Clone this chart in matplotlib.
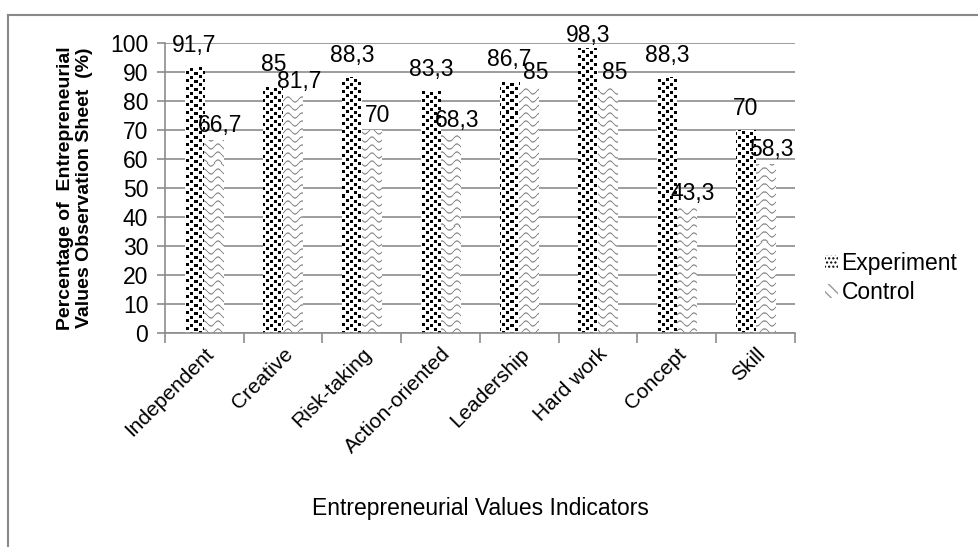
"""
Entrepreneurial values: experiment vs control bar chart.
"""

import numpy as np
import matplotlib
matplotlib.use("Agg")
import matplotlib.pyplot as plt
import matplotlib.transforms as mtransforms
from matplotlib.patches import Patch
from matplotlib.lines import Line2D

plt.rcParams['font.family'] = ['Liberation Sans', 'DejaVu Sans']

# data
categories = ['Independent', 'Creative', 'Risk-taking', 'Action-oriented',
              'Leadership', 'Hard work', 'Concept', 'Skill']
experiment = [91.7, 85, 88.3, 83.3, 86.7, 98.3, 88.3, 70]
control = [66.7, 81.7, 70, 68.3, 85, 85, 43.3, 58.3]
series_names = ['Experiment', 'Control']
y_ticks = list(range(0, 101, 10))

FS = 16.5


def dot_texture(h, w):
    """Black 'confetti' squares on white."""
    img = np.ones((h, w, 4))
    tile = np.zeros((16, 16), dtype=bool)
    spots = [(0, 1), (1, 9), (4, 5), (5, 13), (8, 1), (9, 9), (12, 5), (13, 13)]
    for r, c in spots:
        for dr in range(3):
            for dc in range(3):
                tile[(r + dr) % 16, (c + dc) % 16] = True
    reps = np.tile(tile, (h // 16 + 1, w // 16 + 1))[:h, :w]
    img[reps, :3] = 0.0
    return img


def wave_texture(h, w, period=14.0, spacing=8.0, amp=2.5):
    """Gray sine-wave lines on white."""
    yy, xx = np.mgrid[0:h, 0:w].astype(float)
    d = (yy - amp * np.sin(2 * np.pi * xx / period)) % spacing
    d = np.minimum(d, spacing - d)
    ink = np.clip(1.2 - d, 0, 1)
    img = np.ones((h, w, 4))
    for c in range(3):
        img[..., c] = 1 - ink * 0.45
    return img


fig = plt.figure(figsize=(9.79, 5.47), dpi=100)
ax = fig.add_axes([165 / 979, 1 - 333 / 547, 630 / 979, 290 / 547])

x = np.arange(len(categories))
w = 0.25
bars_e = ax.bar(x - w / 2, experiment, w, color='white', linewidth=0, zorder=2)
bars_c = ax.bar(x + w / 2, control, w, color='white', linewidth=0, zorder=2)

ax.set_xlim(-0.5, len(categories) - 0.5)
ax.set_ylim(0, 100)

# textures clipped to each bar
H, W = 290, 630
extent = (-0.5, len(categories) - 0.5, 0, 100)
tex_e = dot_texture(H, W)
tex_c = wave_texture(H, W)
for bars, tex in ((bars_e, tex_e), (bars_c, tex_c)):
    for b in bars:
        im = ax.imshow(tex, extent=extent, origin='upper', interpolation='nearest',
                       aspect='auto', zorder=2.5)
        im.set_clip_path(b)

# value labels
for xi, v in zip(x, experiment):
    ax.text(xi - w / 2, min(v + 5.2, 100.3), f"{v:g}".replace('.', ','),
            ha='center', va='baseline', fontsize=FS, zorder=4, clip_on=False)
for xi, v in zip(x, control):
    ax.text(xi + w / 2 + 0.08, v + 2.7, f"{v:g}".replace('.', ','),
            ha='center', va='baseline', fontsize=FS, zorder=4)

# grid / axes
ax.set_yticks(y_ticks)
ax.yaxis.grid(True, color='#8c8c8c', linewidth=1.2, zorder=0)
ax.set_axisbelow(True)
for s in ('top', 'right'):
    ax.spines[s].set_visible(False)
for s in ('left', 'bottom'):
    ax.spines[s].set_color('#8c8c8c')
    ax.spines[s].set_linewidth(1.2)
ax.tick_params(axis='y', length=6, color='#8c8c8c', width=1.2, labelsize=FS, pad=6)

ax.set_xticks(np.arange(-0.5, len(categories), 1.0))
ax.set_xticklabels([])
ax.tick_params(axis='x', which='major', length=7, color='#8c8c8c', width=1.2)
ax.set_xticks(x, minor=True)
ax.set_xticklabels(categories, minor=True, rotation=45, ha='right',
                   rotation_mode='anchor', fontsize=15)
ax.tick_params(axis='x', which='minor', length=0, pad=8)
shift = mtransforms.ScaledTranslation(0 / 72, 0, fig.dpi_scale_trans)
for lbl in ax.get_xticklabels(minor=True):
    lbl.set_transform(lbl.get_transform() + shift)

fig.text(75 / 979, 1 - 188 / 547,
         "Percentage of  Entrepreneurial\nValues Observation Sheet  (%)",
         rotation=90, ha='center', va='center', multialignment='center',
         fontsize=14, fontweight='bold', linespacing=1.1)
fig.text(480 / 979, 1 - 508 / 547, "Entrepreneurial Values Indicators",
         ha='center', va='center', fontsize=FS)

# legend
handles = [Patch(facecolor='white', edgecolor='black', hatch='....', linewidth=0),
           Patch(facecolor='white', edgecolor='#999999', hatch='\\\\\\', linewidth=0)]
leg = fig.legend(handles, series_names, loc='center left',
                 bbox_to_anchor=(814 / 979, 1 - 278 / 547), frameon=False,
                 fontsize=FS, handlelength=0.55, handleheight=0.55,
                 handletextpad=0.15, labelspacing=0.3, borderpad=0)

# outer border (top and left visible)
fig.add_artist(Line2D([8 / 979, 8 / 979], [0, 1 - 15 / 547], color='#888888',
                      linewidth=1.5, transform=fig.transFigure))
fig.add_artist(Line2D([8 / 979, 1], [1 - 15 / 547, 1 - 15 / 547], color='#888888',
                      linewidth=1.5, transform=fig.transFigure))

fig.savefig('out.png', dpi=100)
